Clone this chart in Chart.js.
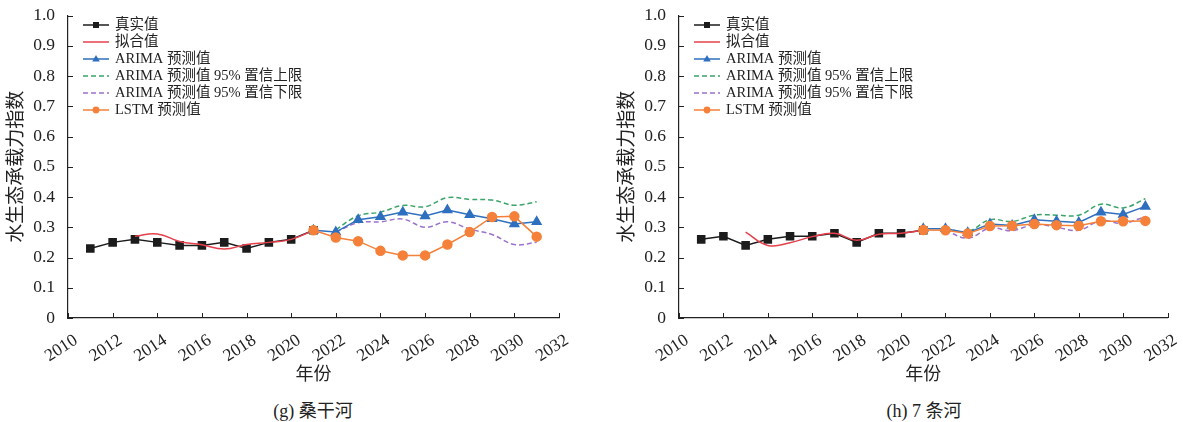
<!DOCTYPE html>
<html>
<head>
<meta charset="utf-8">
<script src="https://cdn.jsdelivr.net/npm/chart.js@4.4.1/dist/chart.umd.min.js"></script>
<style>
  html, body { margin: 0; padding: 0; background: #fff; }
  #wrap { position: relative; width: 1183px; height: 422px; overflow: hidden; }
  canvas { position: absolute; top: 0; }
  .cap { position: absolute; top: 396px; width: 300px; text-align: center;
         font-family: 'Liberation Serif', 'Noto Sans CJK SC', serif; font-size: 18px; color: #222; }
</style>
</head>
<body>
<div id="wrap">
  <canvas id="cSang" width="592" height="392" style="left:0px"></canvas>
  <canvas id="cSeven" width="591" height="392" style="left:592px"></canvas>
  <div class="cap" style="left:163px">(g) 桑干河</div>
  <div class="cap" style="left:774px">(h) 7 条河</div>
</div>
<script>
// ---- data ----
const realYears  = [2011, 2012, 2013, 2014, 2015, 2016, 2017, 2018, 2019, 2020, 2021];
const fitYears   = [2013, 2014, 2015, 2016, 2017, 2018, 2019, 2020, 2021];
const arimaYears = [2021, 2022, 2023, 2024, 2025, 2026, 2027, 2028, 2029, 2030, 2031];
const boundYears = [2022, 2023, 2024, 2025, 2026, 2027, 2028, 2029, 2030, 2031];
const lstmYears  = [2021, 2022, 2023, 2024, 2025, 2026, 2027, 2028, 2029, 2030, 2031];

// 桑干河
const sangReal  = [0.23, 0.25, 0.26, 0.25, 0.24, 0.24, 0.25, 0.23, 0.25, 0.26, 0.29];
const sangFit   = [0.27, 0.278, 0.253, 0.242, 0.228, 0.243, 0.25, 0.26, 0.29];
const sangArima = [0.29, 0.284, 0.325, 0.335, 0.35, 0.337, 0.357, 0.341, 0.328, 0.311, 0.318];
const sangUpper = [0.292, 0.338, 0.35, 0.372, 0.368, 0.398, 0.392, 0.39, 0.373, 0.384];
const sangLower = [0.284, 0.315, 0.318, 0.327, 0.300, 0.318, 0.294, 0.276, 0.243, 0.25];
const sangLstm  = [0.29, 0.266, 0.254, 0.222, 0.207, 0.207, 0.243, 0.284, 0.334, 0.336, 0.269];

// 7 条河
const sevenReal  = [0.26, 0.27, 0.24, 0.26, 0.27, 0.27, 0.28, 0.25, 0.28, 0.28, 0.29];
const sevenFit   = [0.284, 0.24, 0.249, 0.269, 0.28, 0.257, 0.277, 0.28, 0.29];
const sevenArima = [0.295, 0.295, 0.282, 0.311, 0.306, 0.325, 0.32, 0.316, 0.35, 0.342, 0.369];
const sevenUpper = [0.296, 0.286, 0.325, 0.319, 0.34, 0.34, 0.34, 0.376, 0.364, 0.394];
const sevenLower = [0.29, 0.264, 0.297, 0.289, 0.309, 0.30, 0.29, 0.322, 0.313, 0.335];
const sevenLstm  = [0.291, 0.29, 0.279, 0.304, 0.305, 0.311, 0.307, 0.305, 0.32, 0.32, 0.321];

const yTicks = [0, 0.1, 0.2, 0.3, 0.4, 0.5, 0.6, 0.7, 0.8, 0.9, 1.0];
const xTicks = [2010, 2012, 2014, 2016, 2018, 2020, 2022, 2024, 2026, 2028, 2030, 2032];

const seriesNames = ['真实值', '拟合值', 'ARIMA 预测值', 'ARIMA 预测值 95% 置信上限', 'ARIMA 预测值 95% 置信下限', 'LSTM 预测值'];
const yTitle = '水生态承载力指数';
const xTitle = '年份';

// ---- styling ----
const FONT = "'Liberation Serif', 'Noto Sans CJK SC', serif";
const INK = '#222222';
const C_REAL = '#1c1c1c', C_FIT = '#e5404b', C_ARIMA = '#2f6fbf',
      C_UP = '#3aa46b', C_LOW = '#9b72cc', C_LSTM = '#f5803a';

const pts = (xs, ys) => xs.map((x, i) => ({ x, y: ys[i] }));

function buildDatasets(real, fit, arima, upper, lower, lstm) {
  return [
    { label: seriesNames[0], data: pts(realYears, real), borderColor: C_REAL, backgroundColor: C_REAL,
      borderWidth: 1.5, pointStyle: 'rect', pointRadius: 5, tension: 0, order: 3 },
    { label: seriesNames[1], data: pts(fitYears, fit), borderColor: C_FIT, backgroundColor: C_FIT,
      borderWidth: 1.5, pointRadius: 0, tension: 0.45, order: 2 },
    { label: seriesNames[2], data: pts(arimaYears, arima), borderColor: C_ARIMA, backgroundColor: C_ARIMA,
      borderWidth: 1.5, pointStyle: 'triangle', pointRadius: 5, tension: 0, order: 1 },
    { label: seriesNames[3], data: pts(boundYears, upper), borderColor: C_UP, backgroundColor: C_UP,
      borderWidth: 1.5, borderDash: [5, 3], pointRadius: 0, tension: 0.4, order: 4 },
    { label: seriesNames[4], data: pts(boundYears, lower), borderColor: C_LOW, backgroundColor: C_LOW,
      borderWidth: 1.5, borderDash: [5, 3], pointRadius: 0, tension: 0.4, order: 5 },
    { label: seriesNames[5], data: pts(lstmYears, lstm), borderColor: C_LSTM, backgroundColor: C_LSTM,
      borderWidth: 1.5, pointStyle: 'circle', pointRadius: 4.5, tension: 0, order: 0 }
  ];
}

// legend drawn inside the plot area, as a vertical list at the top-left
const insideLegend = {
  id: 'insideLegend',
  afterDraw(chart) {
    const { ctx, chartArea } = chart;
    const x0 = chartArea.left + 15, y0 = chartArea.top + 9.5, len = 26, rowH = 17;
    chart.data.datasets.forEach((ds, i) => {
      const y = y0 + i * rowH;
      ctx.save();
      ctx.strokeStyle = ds.borderColor;
      ctx.lineWidth = ds.borderWidth;
      ctx.setLineDash(ds.borderDash || []);
      ctx.beginPath();
      ctx.moveTo(x0, y); ctx.lineTo(x0 + len, y);
      ctx.stroke();
      ctx.setLineDash([]);
      const cx = x0 + len / 2;
      ctx.fillStyle = ds.backgroundColor;
      if (ds.pointRadius > 0) {
        ctx.beginPath();
        if (ds.pointStyle === 'rect') {
          ctx.rect(cx - 3, y - 3, 6, 6);
        } else if (ds.pointStyle === 'triangle') {
          ctx.moveTo(cx, y - 4); ctx.lineTo(cx + 3.8, y + 2.6); ctx.lineTo(cx - 3.8, y + 2.6); ctx.closePath();
        } else {
          ctx.arc(cx, y, 3.4, 0, Math.PI * 2);
        }
        ctx.fill();
      }
      ctx.fillStyle = INK;
      ctx.font = '14.5px ' + FONT;
      ctx.textBaseline = 'middle';
      ctx.textAlign = 'left';
      ctx.fillText(ds.label, x0 + len + 6, y + 0.5);
      ctx.restore();
    });
  }
};

// short tick marks pointing into the plot area
const inwardTicks = {
  id: 'inwardTicks',
  afterDatasetsDraw(chart) {
    const { ctx, chartArea, scales } = chart;
    ctx.save();
    ctx.strokeStyle = INK;
    ctx.lineWidth = 1;
    ctx.beginPath();
    scales.x.ticks.forEach(t => {
      const px = Math.round(scales.x.getPixelForValue(t.value)) + 0.5;
      ctx.moveTo(px, chartArea.bottom); ctx.lineTo(px, chartArea.bottom - 5);
    });
    scales.y.ticks.forEach(t => {
      const py = Math.round(scales.y.getPixelForValue(t.value)) + 0.5;
      ctx.moveTo(chartArea.left, py); ctx.lineTo(chartArea.left + 5, py);
    });
    ctx.stroke();
    ctx.restore();
  }
};

function makeChart(id, datasets, padLeft, padRight) {
  const cv = document.getElementById(id);
  return new Chart(cv, {
    type: 'line',
    data: { datasets },
    plugins: [insideLegend, inwardTicks],
    options: {
      responsive: false,
      animation: false,
      events: [],
      layout: { padding: { left: padLeft, right: padRight, top: 15, bottom: 0 } },
      plugins: { legend: { display: false }, tooltip: { enabled: false } },
      scales: {
        x: {
          type: 'linear', min: xTicks[0], max: xTicks[xTicks.length - 1],
          afterBuildTicks: s => { s.ticks = xTicks.map(v => ({ value: v })); },
          afterFit: s => { s.height = 392 - 318; },
          grid: { display: false },
          border: { display: true, color: INK, width: 1.2 },
          ticks: { color: INK, font: { family: FONT, size: 17.5 }, minRotation: 33, maxRotation: 33,
                   padding: 4, labelOffset: 8, callback: v => String(v) },
          title: { display: true, text: xTitle, color: INK, font: { family: FONT, size: 18 },
                   padding: { top: 2, bottom: 6 } }
        },
        y: {
          min: 0, max: 1,
          afterBuildTicks: s => { s.ticks = yTicks.map(v => ({ value: v })); },
          afterFit: s => { s.width = 66; },
          grid: { display: false },
          border: { display: true, color: INK, width: 1.2 },
          ticks: { color: INK, font: { family: FONT, size: 17.5 }, padding: 5,
                   callback: v => (v === 0 ? '0' : v.toFixed(1)) },
          title: { display: true, text: yTitle, color: INK, font: { family: FONT, size: 19 },
                   padding: { top: 4, bottom: 2 } }
        }
      }
    }
  });
}

makeChart('cSang', buildDatasets(sangReal, sangFit, sangArima, sangUpper, sangLower, sangLstm), 2, 592 - 559);
makeChart('cSeven', buildDatasets(sevenReal, sevenFit, sevenArima, sevenUpper, sevenLower, sevenLstm), 21, 591 - 578);
</script>
</body>
</html>
